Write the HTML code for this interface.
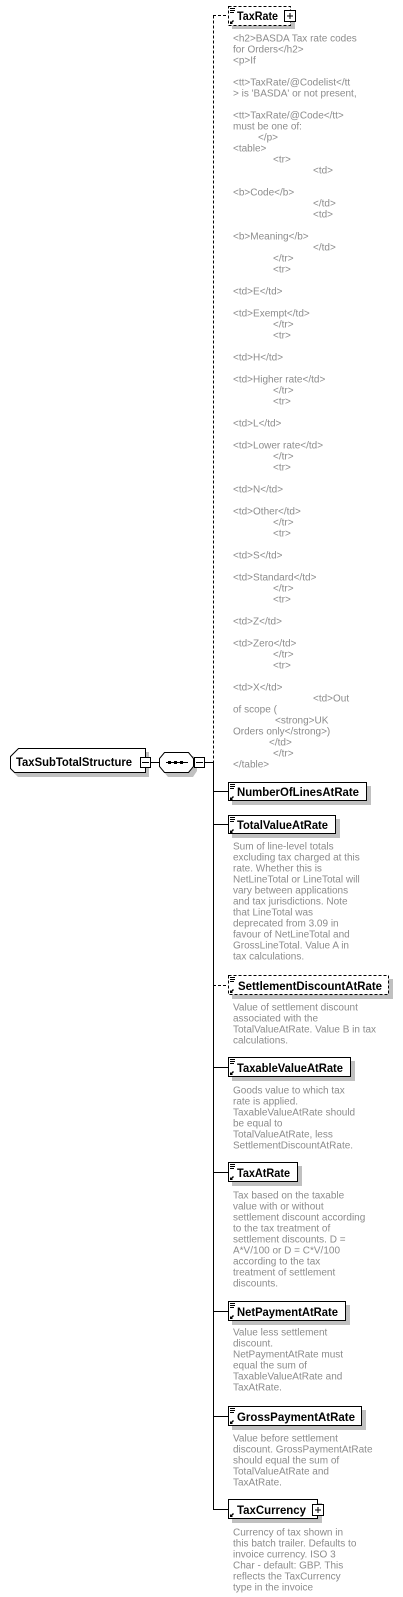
<!DOCTYPE html>
<html><head><meta charset="utf-8"><style>
html,body{margin:0;padding:0;background:#fff;}
svg{display:block;}
.lb{font-family:"Liberation Sans",sans-serif;font-size:12px;font-weight:bold;fill:#000;}
.d{font-family:"Liberation Sans",sans-serif;font-size:10px;fill:#8c8c8c;}
</style></head><body>
<svg width="403" height="1597" viewBox="0 0 403 1597" xmlns="http://www.w3.org/2000/svg">
<line x1="213.5" y1="15.5" x2="213.5" y2="762" stroke="#000" stroke-dasharray="3,2"/>
<line x1="213.5" y1="762" x2="213.5" y2="1509.5" stroke="#000"/>
<line x1="213" y1="15.5" x2="228" y2="15.5" stroke="#000" stroke-dasharray="3,2"/>
<line x1="213" y1="985.5" x2="228" y2="985.5" stroke="#000" stroke-dasharray="3,2"/>
<g stroke="#000">
<line x1="213" y1="791.5" x2="228" y2="791.5"/>
<line x1="213" y1="824.5" x2="228" y2="824.5"/>
<line x1="213" y1="1067.5" x2="228" y2="1067.5"/>
<line x1="213" y1="1172.5" x2="228" y2="1172.5"/>
<line x1="213" y1="1311.5" x2="228" y2="1311.5"/>
<line x1="213" y1="1416.5" x2="228" y2="1416.5"/>
<line x1="213" y1="1509.5" x2="228" y2="1509.5"/>
<line x1="151" y1="762.5" x2="160" y2="762.5"/>
<line x1="204" y1="762.5" x2="213" y2="762.5"/>
</g>

<polygon points="18,756 22,752 149,752 149,777 18,777 14,773" fill="#c0c0c0"/>
<polygon points="14.5,752.5 18.5,748.5 145.5,748.5 145.5,772.5 14.5,772.5 10.5,768.5 10.5,756.5" fill="#fff" stroke="#000"/>
<text x="16" y="766" class="lb" textLength="116" lengthAdjust="spacingAndGlyphs">TaxSubTotalStructure</text>
<rect x="140.5" y="757.5" width="10" height="10" fill="#fff" stroke="#000"/>
<line x1="142" y1="762.5" x2="149" y2="762.5" stroke="#000"/>
<polygon points="168,756 193,756 197,760 197,771 193,777 168,777 163,771 163,760" fill="#c0c0c0"/>
<polygon points="164.5,752.5 188.5,752.5 193.5,758.5 193.5,766.5 188.5,772.5 164.5,772.5 159.5,766.5 159.5,758.5" fill="#fff" stroke="#000"/>
<line x1="166" y1="762.5" x2="188" y2="762.5" stroke="#000"/>
<rect x="168" y="761" width="3" height="3" fill="#000"/><rect x="174" y="761" width="3" height="3" fill="#000"/><rect x="180" y="761" width="3" height="3" fill="#000"/>
<rect x="194.5" y="757.5" width="10" height="10" fill="#fff" stroke="#000"/>
<line x1="196" y1="762.5" x2="203" y2="762.5" stroke="#000"/>

<g>
<rect x="232" y="10" width="63" height="19" fill="#c0c0c0"/>
<rect x="228.5" y="6.5" width="62" height="19" fill="#fff" stroke="#000" stroke-dasharray="3,2"/>
<text x="237" y="20" class="lb" textLength="41" lengthAdjust="spacingAndGlyphs">TaxRate</text>
<rect x="284.5" y="10.5" width="11" height="11" fill="#fff" stroke="#000"/>
<line x1="287" y1="16" x2="293" y2="16" stroke="#000"/><line x1="290" y1="13" x2="290" y2="19" stroke="#000"/>

<rect x="232" y="786" width="139" height="19" fill="#c0c0c0"/>
<rect x="228.5" y="782.5" width="138" height="18" fill="#fff" stroke="#000"/>
<text x="237" y="796" class="lb" textLength="122" lengthAdjust="spacingAndGlyphs">NumberOfLinesAtRate</text>

<rect x="232" y="819" width="108" height="19" fill="#c0c0c0"/>
<rect x="228.5" y="815.5" width="107" height="18" fill="#fff" stroke="#000"/>
<text x="237" y="829" class="lb" textLength="91" lengthAdjust="spacingAndGlyphs">TotalValueAtRate</text>

<rect x="232" y="979" width="161" height="20" fill="#c0c0c0"/>
<rect x="228.5" y="975.5" width="160" height="19" fill="#fff" stroke="#000" stroke-dasharray="3,2"/>
<text x="238" y="990" class="lb" textLength="144" lengthAdjust="spacingAndGlyphs">SettlementDiscountAtRate</text>

<rect x="232" y="1061" width="123" height="20" fill="#c0c0c0"/>
<rect x="228.5" y="1057.5" width="122" height="19" fill="#fff" stroke="#000"/>
<text x="237" y="1072" class="lb" textLength="106" lengthAdjust="spacingAndGlyphs">TaxableValueAtRate</text>

<rect x="232" y="1166" width="70" height="20" fill="#c0c0c0"/>
<rect x="228.5" y="1162.5" width="69" height="19" fill="#fff" stroke="#000"/>
<text x="237" y="1177" class="lb" textLength="53" lengthAdjust="spacingAndGlyphs">TaxAtRate</text>

<rect x="232" y="1305" width="118" height="20" fill="#c0c0c0"/>
<rect x="228.5" y="1301.5" width="117" height="19" fill="#fff" stroke="#000"/>
<text x="237" y="1316" class="lb" textLength="101" lengthAdjust="spacingAndGlyphs">NetPaymentAtRate</text>

<rect x="232" y="1410" width="134" height="20" fill="#c0c0c0"/>
<rect x="228.5" y="1406.5" width="133" height="19" fill="#fff" stroke="#000"/>
<text x="237" y="1421" class="lb" textLength="118" lengthAdjust="spacingAndGlyphs">GrossPaymentAtRate</text>

<rect x="232" y="1503" width="90" height="20" fill="#c0c0c0"/>
<rect x="228.5" y="1499.5" width="89" height="19" fill="#fff" stroke="#000"/>
<text x="237" y="1514" class="lb" textLength="69" lengthAdjust="spacingAndGlyphs">TaxCurrency</text>
<rect x="312.5" y="1504.5" width="11" height="11" fill="#fff" stroke="#000"/>
<line x1="315" y1="1510" x2="321" y2="1510" stroke="#000"/><line x1="318" y1="1507" x2="318" y2="1513" stroke="#000"/>
</g>

<g fill="#000">
<rect x="230" y="8" width="5" height="1"/><rect x="230" y="10" width="5" height="1"/><rect x="230" y="12" width="4" height="1"/>
<rect x="230" y="784" width="5" height="1"/><rect x="230" y="786" width="5" height="1"/><rect x="230" y="788" width="4" height="1"/>
<rect x="230" y="817" width="5" height="1"/><rect x="230" y="819" width="5" height="1"/><rect x="230" y="821" width="4" height="1"/>
<rect x="230" y="977" width="5" height="1"/><rect x="230" y="979" width="5" height="1"/><rect x="230" y="981" width="4" height="1"/>
<rect x="230" y="1059" width="5" height="1"/><rect x="230" y="1061" width="5" height="1"/><rect x="230" y="1063" width="4" height="1"/>
<rect x="230" y="1164" width="5" height="1"/><rect x="230" y="1166" width="5" height="1"/><rect x="230" y="1168" width="4" height="1"/>
<rect x="230" y="1303" width="5" height="1"/><rect x="230" y="1305" width="5" height="1"/><rect x="230" y="1307" width="4" height="1"/>
<rect x="230" y="1408" width="5" height="1"/><rect x="230" y="1410" width="5" height="1"/><rect x="230" y="1412" width="4" height="1"/>
<polygon points="230,24 230,21 231,22 233,20 234,21 232,23 233,24"/>
<polygon points="230,800 230,797 231,798 233,796 234,797 232,799 233,800"/>
<polygon points="230,833 230,830 231,831 233,829 234,830 232,832 233,833"/>
<polygon points="230,993 230,990 231,991 233,989 234,990 232,992 233,993"/>
<polygon points="230,1075 230,1072 231,1073 233,1071 234,1072 232,1074 233,1075"/>
<polygon points="230,1180 230,1177 231,1178 233,1176 234,1177 232,1179 233,1180"/>
<polygon points="230,1319 230,1316 231,1317 233,1315 234,1316 232,1318 233,1319"/>
<polygon points="230,1424 230,1421 231,1422 233,1420 234,1421 232,1423 233,1424"/>
<polygon points="230,1517 230,1514 231,1515 233,1513 234,1514 232,1516 233,1517"/>
</g>

<g class="d">
<text x="233" y="41.5">&lt;h2&gt;BASDA Tax rate codes</text>
<text x="233" y="52.5">for Orders&lt;/h2&gt;</text>
<text x="233" y="63.5">&lt;p&gt;If</text>
<text x="233" y="85.5">&lt;tt&gt;TaxRate/@Codelist&lt;/tt</text>
<text x="233" y="96.5">&gt; is 'BASDA' or not present,</text>
<text x="233" y="118.5">&lt;tt&gt;TaxRate/@Code&lt;/tt&gt;</text>
<text x="233" y="129.5">must be one of:</text>
<text x="258" y="140.5">&lt;/p&gt;</text>
<text x="233" y="151.5">&lt;table&gt;</text>
<text x="273" y="162.5">&lt;tr&gt;</text>
<text x="313" y="173.5">&lt;td&gt;</text>
<text x="233" y="195.5">&lt;b&gt;Code&lt;/b&gt;</text>
<text x="313" y="206.5">&lt;/td&gt;</text>
<text x="313" y="217.5">&lt;td&gt;</text>
<text x="233" y="239.5">&lt;b&gt;Meaning&lt;/b&gt;</text>
<text x="313" y="250.5">&lt;/td&gt;</text>
<text x="273" y="261.5">&lt;/tr&gt;</text>
<text x="273" y="272.5">&lt;tr&gt;</text>
<text x="233" y="294.5">&lt;td&gt;E&lt;/td&gt;</text>
<text x="233" y="316.5">&lt;td&gt;Exempt&lt;/td&gt;</text>
<text x="273" y="327.5">&lt;/tr&gt;</text>
<text x="273" y="338.5">&lt;tr&gt;</text>
<text x="233" y="360.5">&lt;td&gt;H&lt;/td&gt;</text>
<text x="233" y="382.5">&lt;td&gt;Higher rate&lt;/td&gt;</text>
<text x="273" y="393.5">&lt;/tr&gt;</text>
<text x="273" y="404.5">&lt;tr&gt;</text>
<text x="233" y="426.5">&lt;td&gt;L&lt;/td&gt;</text>
<text x="233" y="448.5">&lt;td&gt;Lower rate&lt;/td&gt;</text>
<text x="273" y="459.5">&lt;/tr&gt;</text>
<text x="273" y="470.5">&lt;tr&gt;</text>
<text x="233" y="492.5">&lt;td&gt;N&lt;/td&gt;</text>
<text x="233" y="514.5">&lt;td&gt;Other&lt;/td&gt;</text>
<text x="273" y="525.5">&lt;/tr&gt;</text>
<text x="273" y="536.5">&lt;tr&gt;</text>
<text x="233" y="558.5">&lt;td&gt;S&lt;/td&gt;</text>
<text x="233" y="580.5">&lt;td&gt;Standard&lt;/td&gt;</text>
<text x="273" y="591.5">&lt;/tr&gt;</text>
<text x="273" y="602.5">&lt;tr&gt;</text>
<text x="233" y="624.5">&lt;td&gt;Z&lt;/td&gt;</text>
<text x="233" y="646.5">&lt;td&gt;Zero&lt;/td&gt;</text>
<text x="273" y="657.5">&lt;/tr&gt;</text>
<text x="273" y="668.5">&lt;tr&gt;</text>
<text x="233" y="690.5">&lt;td&gt;X&lt;/td&gt;</text>
<text x="313" y="701.5">&lt;td&gt;Out</text>
<text x="233" y="712.5">of scope (</text>
<text x="275" y="723.5">&lt;strong&gt;UK</text>
<text x="233" y="734.5">Orders only&lt;/strong&gt;)</text>
<text x="269" y="745.5">&lt;/td&gt;</text>
<text x="273" y="756.5">&lt;/tr&gt;</text>
<text x="233" y="767.5">&lt;/table&gt;</text>

<text x="233" y="849.5">Sum of line-level totals</text>
<text x="233" y="860.5">excluding tax charged at this</text>
<text x="233" y="871.5">rate. Whether this is</text>
<text x="233" y="882.5">NetLineTotal or LineTotal will</text>
<text x="233" y="893.5">vary between applications</text>
<text x="233" y="904.5">and tax jurisdictions. Note</text>
<text x="233" y="915.5">that LineTotal was</text>
<text x="233" y="926.5">deprecated from 3.09 in</text>
<text x="233" y="937.5">favour of NetLineTotal and</text>
<text x="233" y="948.5">GrossLineTotal. Value A in</text>
<text x="233" y="959.5">tax calculations.</text>

<text x="233" y="1010.5">Value of settlement discount</text>
<text x="233" y="1021.5">associated with the</text>
<text x="233" y="1032.5">TotalValueAtRate. Value B in tax</text>
<text x="233" y="1043.5">calculations.</text>

<text x="233" y="1093.5">Goods value to which tax</text>
<text x="233" y="1104.5">rate is applied.</text>
<text x="233" y="1115.5">TaxableValueAtRate should</text>
<text x="233" y="1126.5">be equal to</text>
<text x="233" y="1137.5">TotalValueAtRate, less</text>
<text x="233" y="1148.5">SettlementDiscountAtRate.</text>

<text x="233" y="1198.5">Tax based on the taxable</text>
<text x="233" y="1209.5">value with or without</text>
<text x="233" y="1220.5">settlement discount according</text>
<text x="233" y="1231.5">to the tax treatment of</text>
<text x="233" y="1242.5">settlement discounts.  D =</text>
<text x="233" y="1253.5">A*V/100 or D = C*V/100</text>
<text x="233" y="1264.5">according to the tax</text>
<text x="233" y="1275.5">treatment of settlement</text>
<text x="233" y="1286.5">discounts.</text>

<text x="233" y="1335.5">Value less settlement</text>
<text x="233" y="1346.5">discount.</text>
<text x="233" y="1357.5">NetPaymentAtRate must</text>
<text x="233" y="1368.5">equal the sum of</text>
<text x="233" y="1379.5">TaxableValueAtRate and</text>
<text x="233" y="1390.5">TaxAtRate.</text>

<text x="233" y="1441.5">Value before settlement</text>
<text x="233" y="1452.5">discount. GrossPaymentAtRate</text>
<text x="233" y="1463.5">should equal the sum of</text>
<text x="233" y="1474.5">TotalValueAtRate and</text>
<text x="233" y="1485.5">TaxAtRate.</text>

<text x="233" y="1535.5">Currency of tax shown in</text>
<text x="233" y="1546.5">this batch trailer. Defaults to</text>
<text x="233" y="1557.5">invoice currency. ISO 3</text>
<text x="233" y="1568.5">Char - default: GBP. This</text>
<text x="233" y="1579.5">reflects the TaxCurrency</text>
<text x="233" y="1590.5">type in the invoice</text>
</g>
</svg>
</body></html>
